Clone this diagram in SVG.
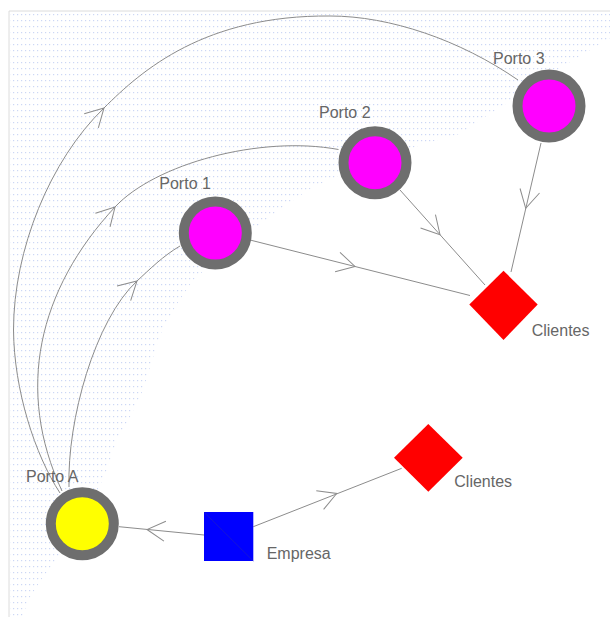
<svg xmlns="http://www.w3.org/2000/svg" xmlns:xlink="http://www.w3.org/1999/xlink" width="610" height="617" viewBox="0 0 610 617">
  <style>
    .lbl { font-family: "Liberation Sans", Arial, sans-serif; font-size: 16px; fill: #666666; }
    .edge { fill: none; stroke: #8c8c8c; stroke-width: 1; }
    .ring { stroke: #6e6e6e; stroke-width: 10; }
    .porto { fill: #ff00ff; }
    .base { fill: #ffff00; }
    .cli { fill: #ff0000; }
    .emp { fill: #0000ff; }
  </style>
  <defs>
    <pattern id="dots" width="4" height="6" patternUnits="userSpaceOnUse">
      <rect x="1" y="2" width="1.2" height="1.2" fill="#ccd7f5"/>
    </pattern>
    <path id="ah" d="M-18,-10 L0,0 L-18,10" fill="none" stroke="#8c8c8c" stroke-width="1"/>
  </defs>

  <rect width="610" height="617" fill="#ffffff"/>
  <g id="background">
    <path d="M10,12 L610,12 L610,38 L600,44 L585,53 L560,68 L520,95 L480,120 L463,133 L427,143 L370,162 L313,187 L283,207 L240,240 L193,280 L175,307 L160,335 L143,390 L130,417 L117,440 L105,475 L85,515 L60,555 L43,577 L30,597 L22,617 L10,617 Z" fill="url(#dots)"/>
    <path d="M9,617 L9,11 L610,11" fill="none" stroke="#dcdcdc" stroke-width="1"/>
  </g>

  <g id="connectors">
    <path class="edge" d="M204,535 L119,526.7"/>
    <path class="edge" d="M253.3,526.7 L401.7,468.3"/>
    <path class="edge" d="M250,240 L470,295.5"/>
    <path class="edge" d="M400,190 L485,285"/>
    <path class="edge" d="M541,143 L511,272"/>
    <path class="edge" d="M69,487 C67,420 95,320 137,281 C150,269 163,256 180,246"/>
    <path class="edge" d="M62,491 C15,390 38,290 115,207 C155,164 260,135 338.5,149.5"/>
    <path class="edge" d="M60,493 C35,455 14,390 13.5,330 C13.5,250 50,160 104,108 C142,70 205,15 330,16 C390,16 460,40 518,80"/>
    <use xlink:href="#ah" href="#ah" transform="translate(147,529.5) rotate(185.6)"/>
    <use xlink:href="#ah" href="#ah" transform="translate(336.7,493.5) rotate(-21.5)"/>
    <use xlink:href="#ah" href="#ah" transform="translate(355,266.5) rotate(14.2)"/>
    <use xlink:href="#ah" href="#ah" transform="translate(440,234.7) rotate(48.2)"/>
    <use xlink:href="#ah" href="#ah" transform="translate(525.7,208.3) rotate(103.1)"/>
    <use xlink:href="#ah" href="#ah" transform="translate(137,281) rotate(-43)"/>
    <use xlink:href="#ah" href="#ah" transform="translate(115,207) rotate(-47)"/>
    <use xlink:href="#ah" href="#ah" transform="translate(104,108) rotate(-45)"/>
  </g>

  <g id="porto3">
    <circle class="ring porto" cx="549" cy="106" r="31.5"/>
    <text class="lbl" x="493" y="64">Porto 3</text>
  </g>
  <g id="porto2">
    <circle class="ring porto" cx="375" cy="162.7" r="31.5"/>
    <text class="lbl" x="319" y="118.3">Porto 2</text>
  </g>
  <g id="porto1">
    <circle class="ring porto" cx="215.3" cy="233" r="31.5"/>
    <text class="lbl" x="159.3" y="189.3">Porto 1</text>
  </g>
  <g id="portoA">
    <circle class="ring base" cx="82.3" cy="523.7" r="31.5"/>
    <text class="lbl" x="26" y="481.5">Porto A</text>
  </g>
  <g id="clientes1">
    <polygon class="cli" points="503.5,270.7 537.7,304.5 503.5,340 469.3,304.5"/>
    <text class="lbl" x="531.7" y="335.7">Clientes</text>
  </g>
  <g id="clientes2">
    <polygon class="cli" points="428.3,424 462.7,457.7 428.3,491.7 394,457.7"/>
    <text class="lbl" x="454.3" y="487.3">Clientes</text>
  </g>
  <g id="empresa">
    <rect class="emp" x="204" y="512" width="49.3" height="49"/>
    <line x1="204" y1="512" x2="253.3" y2="561" stroke="#1a1acc" stroke-width="0.8"/>
    <text class="lbl" x="266.7" y="559">Empresa</text>
  </g>
</svg>
